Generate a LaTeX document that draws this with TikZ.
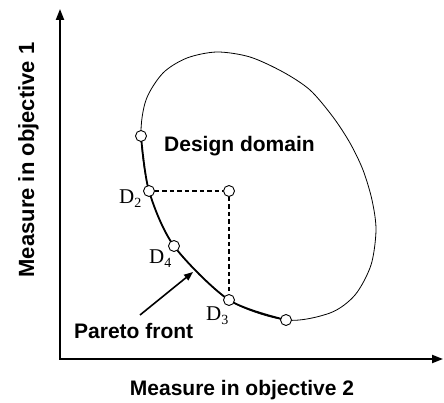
\documentclass[tikz,border=0pt]{standalone}
\usepackage{fontspec}
\setmainfont{Liberation Serif}
\setsansfont{Liberation Sans}
\usetikzlibrary{arrows.meta}
\begin{document}
\begin{tikzpicture}[x=1pt,y=-1pt,
  axis/.style={line width=2pt,line cap=rect,-{Triangle[length=11pt,width=8pt]}},
  outline/.style={line width=0.8pt},
  front/.style={line width=1.8pt},
  pt/.style={circle,draw,fill=white,line width=0.9pt,minimum size=11pt,inner sep=0pt},
  guide/.style={line width=1.1pt,dash pattern=on 4.5pt off 3pt},
  lbl/.style={font=\fontsize{21}{25}\selectfont\sffamily\bfseries,inner sep=0pt},
  dlbl/.style={font=\fontsize{21}{25}\selectfont\rmfamily,anchor=base west,inner sep=0pt},
  ptr/.style={line width=1.6pt,-{Triangle[length=9pt,width=7pt]}}]
\useasboundingbox (0,0) rectangle (444,403);
% axes
\coordinate (o) at (60,359);
\coordinate (ytop) at (60,9);
\coordinate (xend) at (443,359);
\draw[axis] (o) -- (ytop);
\draw[axis] (o) -- (xend);
% points
\coordinate (c1) at (141,136);
\coordinate (c2) at (149,191);
\coordinate (cm) at (229,191);
\coordinate (c4) at (174,246);
\coordinate (c3) at (229,300);
\coordinate (c6) at (286,320);
% design domain boundary
\draw[outline] plot[smooth cycle] coordinates {(c1) (146,100) (163,73) (187,58) (217,52) (250,57) (283,72) (310,90) (333,117) (350,143) (363,170) (372,200) (376,230) (371,265) (355,295) (330,313) (c6) (c3) (c4) (c2)};
% pareto front
\draw[front] plot[smooth] coordinates {(c1) (c2) (c4) (c3) (c6)};
% circle markers
\node[pt] (p1) at (c1) {};
\node[pt] (d2) at (c2) {};
\node[pt] (dm) at (cm) {};
\node[pt] (d4) at (c4) {};
\node[pt] (d3) at (c3) {};
\node[pt] (p6) at (c6) {};
\draw[guide] (d2) -- (dm) -- (d3);
% labels
\node[dlbl] (l2) at (119,204) {D\raisebox{-4pt}{\fontsize{14}{14}\selectfont 2}};
\node[dlbl] (l4) at (149,263) {D\raisebox{-4pt}{\fontsize{14}{14}\selectfont 4}};
\node[dlbl] (l3) at (206,320) {D\raisebox{-4pt}{\fontsize{14}{14}\selectfont 3}};
\node[lbl,anchor=base west] (dd) at (164,152) {Design domain};
\node[lbl,anchor=base west] (pf) at (74,338) {Pareto front};
\coordinate (pfs) at (140,315);
\coordinate (pft) at (193,272);
\draw[ptr] (pfs) -- (pft);
\node[lbl,anchor=base] (xl) at (242,395) {Measure in objective 2};
\node[lbl,anchor=base,rotate=90,font=\fontsize{22}{26}\selectfont\sffamily\bfseries] (yl) at (34,160) {Measure in objective 1};
\end{tikzpicture}
\end{document}
